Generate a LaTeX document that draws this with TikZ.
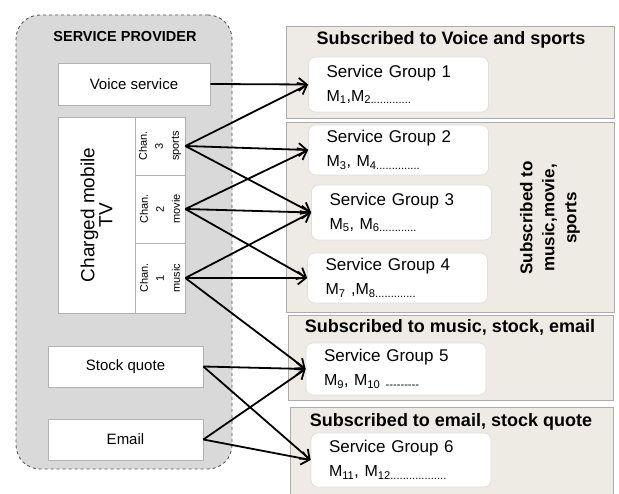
\documentclass[tikz,border=0pt]{standalone}
\usepackage{fontspec}
\setmainfont{Liberation Sans}
\usetikzlibrary{arrows.meta}
\definecolor{spfill}{HTML}{D9D9D9}
\definecolor{panelfill}{HTML}{EEEBE4}
\begin{document}
\begin{tikzpicture}[x=1pt,y=-1pt,
    provider/.style={draw=gray!70!black, dashed, fill=spfill, rounded corners=24pt,
      line width=0.9pt, inner sep=0pt},
    svc/.style={draw=gray!60, fill=white, line width=0.7pt, inner sep=0pt,
      font=\fontsize{15}{18}\selectfont},
    chanlbl/.style={rotate=90, align=center, inner sep=0pt,
      font=\fontsize{11}{16}\selectfont},
    panel/.style={draw=gray!65, fill=panelfill, line width=0.9pt, inner sep=0pt},
    head/.style={font=\bfseries\fontsize{18}{20}\selectfont, inner sep=0pt},
    grp/.style={draw=gray!25, fill=white, rounded corners=7pt, line width=0.7pt,
      align=left, text width=144pt, inner xsep=18pt, inner ysep=0pt,
      font=\fontsize{17}{24}\selectfont},
    link/.style={line width=1.8pt, -{Straight Barb[length=8pt,width=13pt]}}]

  \clip (0,0) rectangle (619,494);

  % the provider side
  \node[provider, minimum width=216pt, minimum height=454pt] (sp) at (124,242) {};
  \node[font=\bfseries\fontsize{14.5}{16}\selectfont] (sptitle) at (125,37) {SERVICE PROVIDER};
  \node[svc, minimum width=152pt, minimum height=42pt] (voice) at (134,84) {Voice service};
  \node[svc, minimum width=77pt, minimum height=196pt] (tv) at (96.5,215) {};
  \node[chanlbl, font=\fontsize{19}{17}\selectfont] (tvlbl) at (tv) {Charged mobile\\TV};
  % channel cells, top to bottom
  \node[svc, minimum width=50pt, minimum height=58pt] (sports) at (160,146) {};
  \node[svc, minimum width=50pt, minimum height=68pt] (movie) at (160,209) {};
  \node[svc, minimum width=50pt, minimum height=70pt] (music) at (160,278) {};
  \node[chanlbl] (sportslbl) at (sports) {Chan.\\3\\sports};
  \node[chanlbl] (movielbl) at (movie) {Chan.\\2\\movie};
  \node[chanlbl] (musiclbl) at (music) {Chan.\\1\\music};
  \node[svc, minimum width=155pt, minimum height=41pt] (stock) at (125.5,366.5) {Stock quote};
  \node[svc, minimum width=155pt, minimum height=41pt] (email) at (125.5,439.5) {Email};

  % the subscriber side
  \node[panel, minimum width=328pt, minimum height=92pt] (pone) at (450,72) {};
  \node[panel, minimum width=328pt, minimum height=190pt] (ptwo) at (450,217) {};
  \node[panel, minimum width=325pt, minimum height=85pt] (pthree) at (450.5,357.5) {};
  \node[panel, minimum width=323pt, minimum height=93pt] (pfour) at (451.5,453.5) {};
  \node[head] (hone) at (451,40) {Subscribed to Voice and sports};
  \node[head] (hthree) at (450,327) {Subscribed to music, stock, email};
  \node[head] (hfour) at (451,422) {Subscribed to email, stock quote};
  \node[head, rotate=90, align=center, font=\bfseries\fontsize{17}{22}\selectfont]
    (htwo) at (550,218) {Subscribed to\\music,movie,\\sports};

  \node[grp, minimum height=55pt] (g1) at (398.5,84.5)
    {Service Group 1\\{\fontsize{16}{20}\selectfont M\textsubscript{1},M\textsubscript{2.............}}};
  \node[grp, minimum height=50pt] (g2) at (398.5,150)
    {Service Group 2\\{\fontsize{16}{20}\selectfont M\textsubscript{3}, M\textsubscript{4..............}}};
  \node[grp, minimum height=55pt] (g3) at (401.5,212.5)
    {Service Group 3\\{\fontsize{16}{20}\selectfont M\textsubscript{5}, M\textsubscript{6............}}};
  \node[grp, minimum height=50pt] (g4) at (397.5,278)
    {Service Group 4\\{\fontsize{16}{20}\selectfont M\textsubscript{7} ,M\textsubscript{8.............}}};
  \node[grp, minimum height=52pt] (g5) at (396,369)
    {Service Group 5\\{\fontsize{16}{20}\selectfont M\textsubscript{9}, M\textsubscript{10 -{}-{}-{}-{}-{}-{}-{}-{}-}}};
  \node[grp, minimum height=54pt] (g6) at (401,460)
    {Service Group 6\\{\fontsize{16}{20}\selectfont M\textsubscript{11}, M\textsubscript{12..................}}};

  % who gets what
  \foreach \src/\dst in {voice/g1, sports/g1, sports/g2, sports/g3,
      movie/g2, movie/g3, movie/g4, music/g3, music/g4, music/g5,
      stock/g5, stock/g6, email/g5, email/g6}
    \draw[link] (\src.east) -- (\dst.west);

\end{tikzpicture}
\end{document}
